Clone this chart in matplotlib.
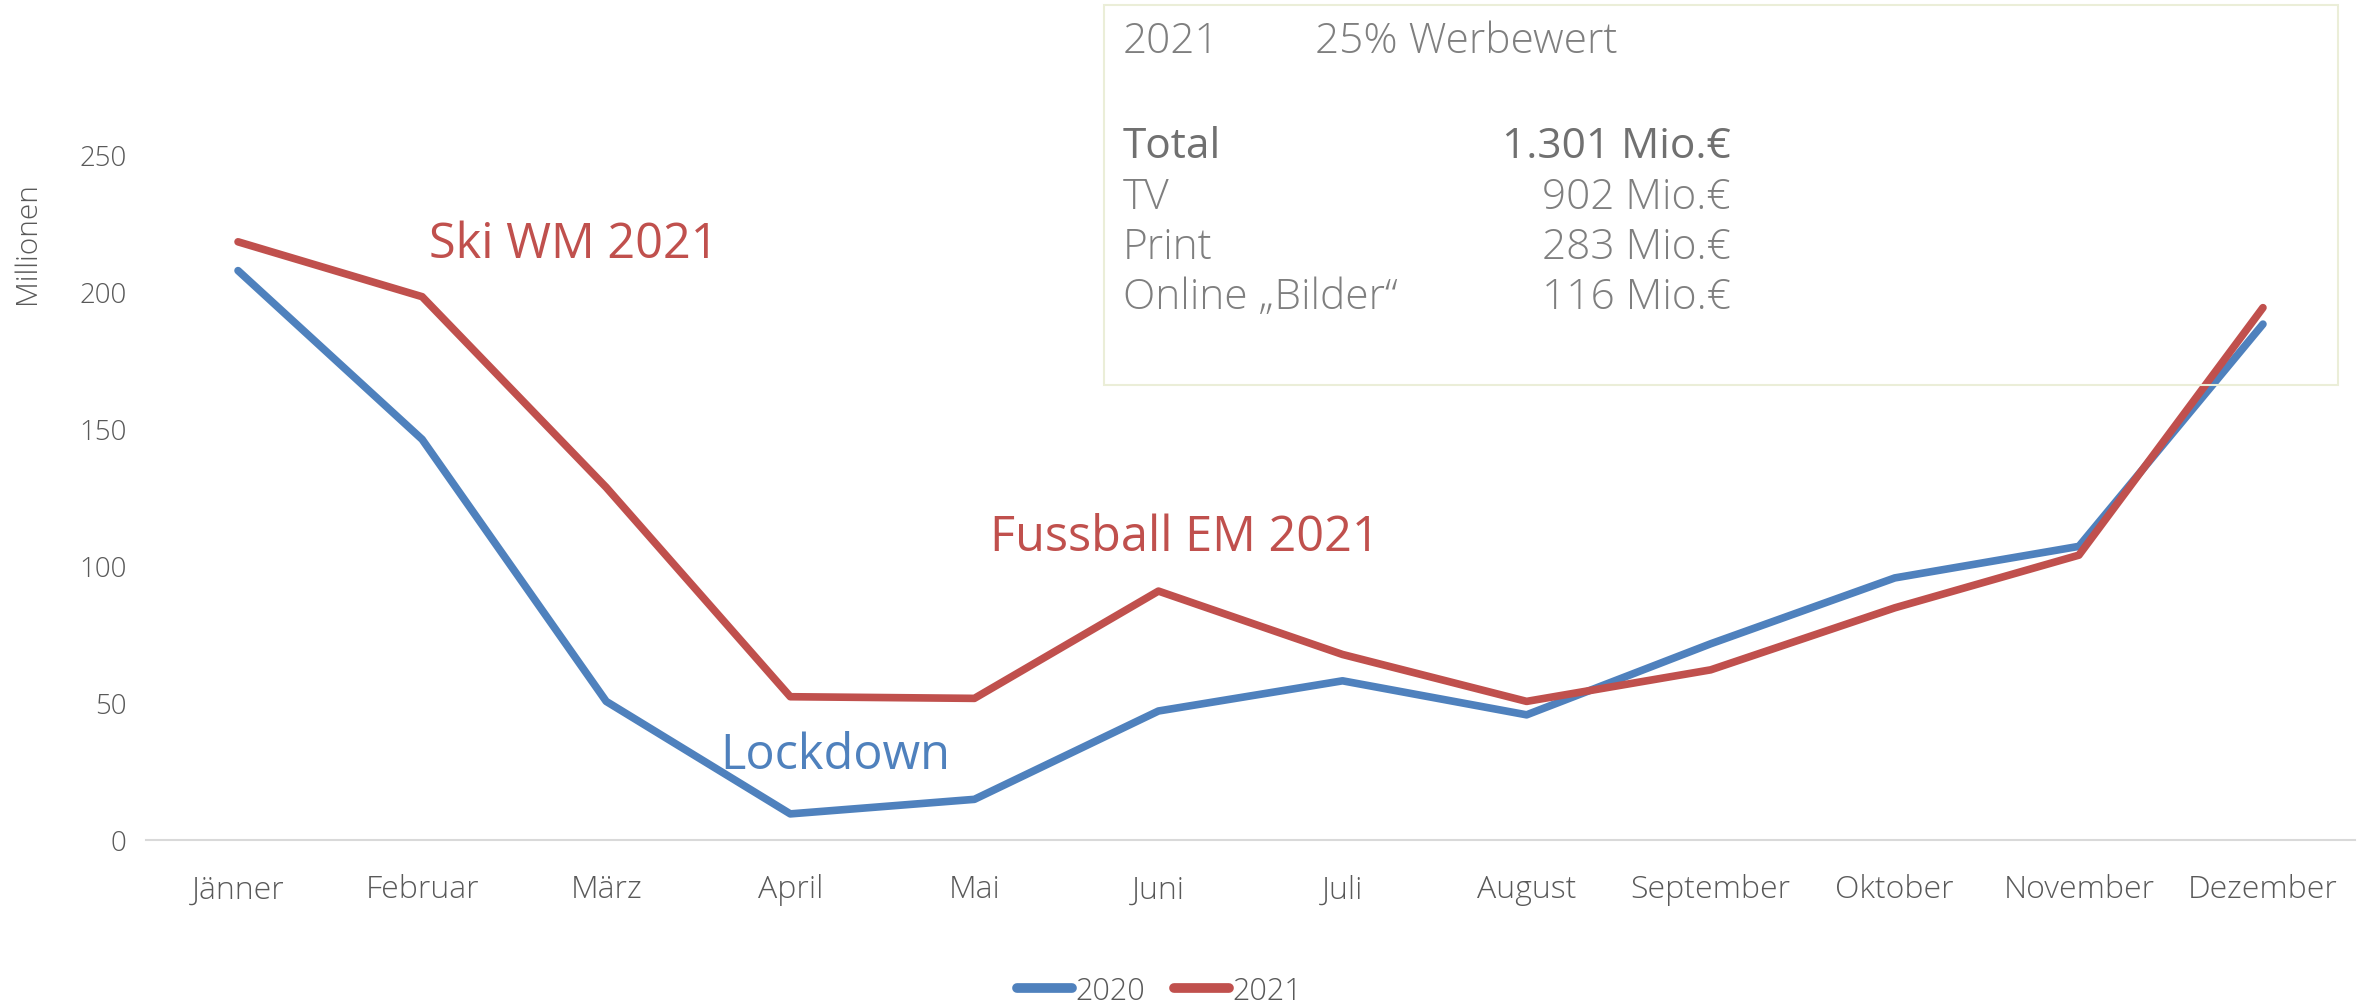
import matplotlib.pyplot as plt
from matplotlib.patches import Rectangle

months = ["Jänner", "Februar", "März", "April", "Mai", "Juni", "Juli",
          "August", "September", "Oktober", "November", "Dezember"]
values_2020 = [207.5, 146, 50.5, 9.5, 14.8, 47, 58, 45.6, 71.5, 95.5, 107, 188]
values_2021 = [218, 198, 128.5, 52.2, 51.6, 90.7, 67.6, 50.5, 62, 84.6, 103.8, 194]

box_labels = ["Total", "TV", "Print", "Online \u201eBilder\u201c"]
box_values = ["1.301 Mio.€", "902 Mio.€", "283 Mio.€", "116 Mio.€"]

blue = "#4f81bd"
red = "#c0504d"
gray = "#595959"

plt.rcParams['font.family'] = ['Open Sans', 'DejaVu Sans']

fig = plt.figure(figsize=(23.64, 10.04), dpi=100)
ax = fig.add_axes([146 / 2364, 0.1624, (2355 - 146) / 2364, 0.6832])

x = range(len(months))
ax.plot(x, values_2020, color=blue, lw=5.5, solid_capstyle='round', solid_joinstyle='round', label="2020")
ax.plot(x, values_2021, color=red, lw=5.5, solid_capstyle='round', solid_joinstyle='round', label="2021")

ax.set_xlim(-0.5, len(months) - 0.5)
ax.set_ylim(0, 250)
ax.set_yticks([0, 50, 100, 150, 200, 250])
ax.set_xticks(list(x))
ax.set_xticklabels(months)
ax.tick_params(axis='both', length=0, labelcolor=gray)
ax.tick_params(axis='y', pad=14, labelsize=20)
ax.tick_params(axis='x', pad=24, labelsize=23)
for lbl in ax.get_xticklabels() + ax.get_yticklabels():
    lbl.set_fontweight('light')
for s in ['top', 'right', 'left']:
    ax.spines[s].set_visible(False)
ax.spines['bottom'].set_color('#d9d9d9')
ax.spines['bottom'].set_linewidth(1.5)

fig.text(27 / 2364, 1 - 243 / 1004, "Millionen", rotation=90, ha='center', va='center',
         fontsize=21.5, color=gray, fontweight='light')

# annotations
ax.text(1.04, 217, "Ski WM 2021", color=red, fontsize=35, va='center', ha='left')
ax.text(4.085, 110.4, "Fussball EM 2021", color=red, fontsize=35, va='center', ha='left')
ax.text(2.62, 30.8, "Lockdown", color=blue, fontsize=35, va='center', ha='left')

# info box
fig.patches.append(Rectangle((1104 / 2364, 1 - 386 / 1004), (2338 - 1104) / 2364, (386 - 6) / 1004,
                             transform=fig.transFigure, fill=False, edgecolor='#ebeed8', lw=1.5, zorder=5))
box_col = "#7f7f7f"
fs_box = 30.5
fig.text(1123 / 2364, 1 - 42 / 1004, "2021", fontsize=fs_box, color=box_col, va='center', fontweight='light')
fig.text(1315 / 2364, 1 - 42 / 1004, "25% Werbewert", fontsize=fs_box, color=box_col, va='center', fontweight='light')
rows_y = [147, 198, 248, 298]
for i, (lab, val) in enumerate(zip(box_labels, box_values)):
    w = 'normal' if i == 0 else 'light'
    c = "#707070" if i == 0 else box_col
    fig.text(1123 / 2364, 1 - rows_y[i] / 1004, lab, fontsize=fs_box, color=c, va='center', fontweight=w)
    fig.text(1731 / 2364, 1 - rows_y[i] / 1004, val, fontsize=fs_box, color=c, va='center', ha='right', fontweight=w)

leg = fig.legend(loc='center', bbox_to_anchor=(0.4905, 0.012), ncol=2, frameon=False,
                 fontsize=22, handlelength=1.8, handletextpad=0.1, columnspacing=0.95)
for line in leg.get_lines():
    line.set_linewidth(7)
    line.set_solid_capstyle('round')
for t in leg.get_texts():
    t.set_color(gray)
    t.set_fontweight('light')

fig.savefig("out.png", dpi=100)
